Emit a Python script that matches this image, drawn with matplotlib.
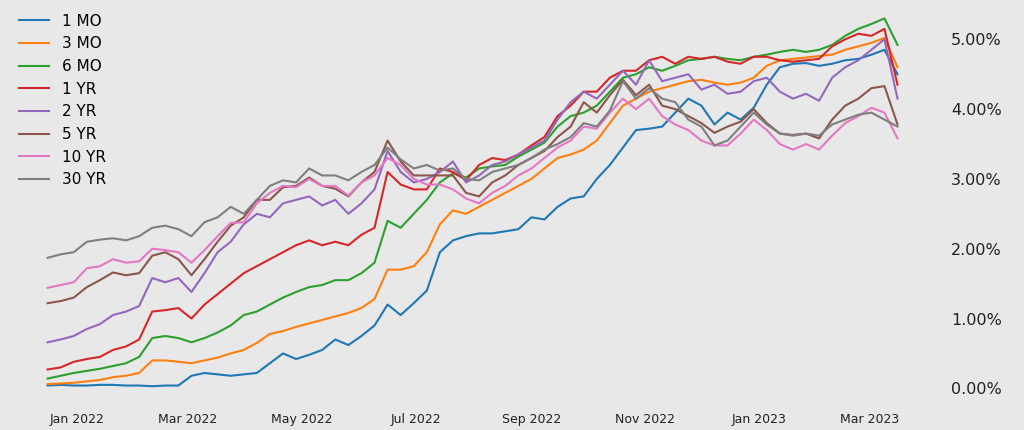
import matplotlib
matplotlib.use('Agg')
import matplotlib.pyplot as plt
import matplotlib.dates as mdates
from matplotlib.ticker import PercentFormatter, MultipleLocator
import pandas as pd

# weekly samples, Dec 16 2021 .. Mar 16 2023
dates = pd.date_range('2021-12-16', periods=66, freq='7D')

mo1 = [0.04, 0.05, 0.04, 0.04, 0.05, 0.05, 0.04, 0.04, 0.03, 0.04, 0.04,
       0.18, 0.22, 0.20, 0.18, 0.20, 0.22, 0.36, 0.50, 0.42, 0.48, 0.55,
       0.70, 0.62, 0.75, 0.90, 1.20, 1.05, 1.22, 1.40, 1.95, 2.12, 2.18,
       2.22, 2.22, 2.25, 2.28, 2.45, 2.42, 2.60, 2.72, 2.75, 3.00, 3.20,
       3.45, 3.70, 3.72, 3.75, 3.95, 4.15, 4.05, 3.78, 3.95, 3.85, 4.02,
       4.35, 4.60, 4.65, 4.66, 4.62, 4.65, 4.70, 4.72, 4.78, 4.85, 4.50]
mo3 = [0.06, 0.07, 0.08, 0.10, 0.12, 0.16, 0.18, 0.22, 0.40, 0.40, 0.38,
       0.36, 0.40, 0.44, 0.50, 0.55, 0.65, 0.78, 0.82, 0.88, 0.93, 0.98,
       1.03, 1.08, 1.15, 1.28, 1.70, 1.70, 1.75, 1.95, 2.35, 2.55, 2.50,
       2.60, 2.70, 2.80, 2.90, 3.00, 3.15, 3.30, 3.35, 3.42, 3.55, 3.80,
       4.05, 4.15, 4.25, 4.30, 4.35, 4.40, 4.42, 4.38, 4.35, 4.38, 4.45,
       4.62, 4.70, 4.72, 4.74, 4.76, 4.78, 4.85, 4.90, 4.95, 5.02, 4.60]
mo6 = [0.14, 0.18, 0.22, 0.25, 0.28, 0.32, 0.36, 0.45, 0.72, 0.75, 0.72,
       0.66, 0.72, 0.80, 0.90, 1.05, 1.10, 1.20, 1.30, 1.38, 1.45, 1.48,
       1.55, 1.55, 1.65, 1.80, 2.40, 2.30, 2.50, 2.70, 2.95, 3.08, 3.02,
       3.15, 3.18, 3.20, 3.32, 3.42, 3.52, 3.75, 3.90, 3.95, 4.05, 4.25,
       4.45, 4.50, 4.60, 4.55, 4.62, 4.70, 4.72, 4.75, 4.72, 4.70, 4.75,
       4.78, 4.82, 4.85, 4.82, 4.85, 4.92, 5.05, 5.15, 5.22, 5.30, 4.92]
yr1 = [0.27, 0.30, 0.38, 0.42, 0.45, 0.55, 0.60, 0.70, 1.10, 1.12, 1.15,
       1.00, 1.20, 1.35, 1.50, 1.65, 1.75, 1.85, 1.95, 2.05, 2.12, 2.05,
       2.10, 2.05, 2.20, 2.30, 3.10, 2.92, 2.85, 2.85, 3.15, 3.10, 2.98,
       3.20, 3.30, 3.27, 3.35, 3.48, 3.60, 3.90, 4.05, 4.25, 4.25, 4.45,
       4.55, 4.55, 4.70, 4.75, 4.65, 4.75, 4.72, 4.75, 4.68, 4.65, 4.75,
       4.75, 4.70, 4.68, 4.70, 4.72, 4.90, 5.00, 5.08, 5.05, 5.15, 4.35]
yr2 = [0.66, 0.70, 0.75, 0.85, 0.92, 1.05, 1.10, 1.18, 1.58, 1.52, 1.58,
       1.38, 1.65, 1.95, 2.10, 2.35, 2.50, 2.45, 2.65, 2.70, 2.75, 2.62,
       2.70, 2.50, 2.65, 2.85, 3.40, 3.10, 2.95, 3.00, 3.10, 3.25, 2.95,
       3.05, 3.20, 3.25, 3.35, 3.45, 3.55, 3.85, 4.10, 4.25, 4.15, 4.35,
       4.55, 4.35, 4.70, 4.40, 4.45, 4.50, 4.28, 4.35, 4.22, 4.25, 4.40,
       4.45, 4.25, 4.15, 4.22, 4.12, 4.45, 4.60, 4.70, 4.85, 5.00, 4.15]
yr5 = [1.22, 1.25, 1.30, 1.45, 1.55, 1.66, 1.62, 1.65, 1.90, 1.95, 1.85,
       1.62, 1.85, 2.10, 2.33, 2.45, 2.70, 2.70, 2.88, 2.90, 3.02, 2.90,
       2.86, 2.75, 2.95, 3.10, 3.55, 3.25, 3.05, 3.05, 3.05, 3.05, 2.80,
       2.75, 2.95, 3.05, 3.20, 3.30, 3.40, 3.60, 3.75, 4.10, 3.95, 4.20,
       4.42, 4.20, 4.35, 4.05, 4.00, 3.90, 3.80, 3.66, 3.75, 3.82, 4.00,
       3.80, 3.65, 3.63, 3.65, 3.58, 3.85, 4.05, 4.15, 4.30, 4.33, 3.78]
yr10 = [1.44, 1.48, 1.52, 1.72, 1.75, 1.85, 1.80, 1.82, 2.00, 1.98, 1.95,
        1.80, 1.98, 2.18, 2.37, 2.38, 2.65, 2.80, 2.90, 2.88, 3.00, 2.90,
        2.90, 2.76, 2.95, 3.05, 3.30, 3.20, 3.00, 2.92, 2.92, 2.85, 2.72,
        2.65, 2.80, 2.90, 3.05, 3.15, 3.30, 3.45, 3.55, 3.75, 3.72, 3.95,
        4.15, 4.00, 4.15, 3.90, 3.78, 3.70, 3.55, 3.48, 3.48, 3.65, 3.85,
        3.70, 3.50, 3.42, 3.50, 3.42, 3.62, 3.80, 3.90, 4.02, 3.95, 3.58]
yr30 = [1.87, 1.92, 1.95, 2.10, 2.13, 2.15, 2.12, 2.18, 2.30, 2.33, 2.28,
        2.18, 2.38, 2.45, 2.60, 2.50, 2.70, 2.90, 2.98, 2.95, 3.15, 3.05,
        3.05, 2.98, 3.10, 3.20, 3.45, 3.28, 3.15, 3.20, 3.12, 3.15, 3.00,
        2.98, 3.10, 3.15, 3.20, 3.30, 3.42, 3.50, 3.60, 3.80, 3.75, 3.98,
        4.40, 4.15, 4.30, 4.15, 4.10, 3.85, 3.75, 3.48, 3.55, 3.75, 3.95,
        3.78, 3.65, 3.62, 3.65, 3.62, 3.78, 3.85, 3.92, 3.95, 3.85, 3.75]

labels = ['1 MO', '3 MO', '6 MO', '1 YR', '2 YR', '5 YR', '10 YR', '30 YR']
series = [mo1, mo3, mo6, yr1, yr2, yr5, yr10, yr30]

bg = '#e8e8e9'
fig = plt.figure(figsize=(10.24, 4.30), dpi=100, facecolor=bg)
ax = fig.add_subplot(1, 1, 1)
ax.set_facecolor(bg)
fig.subplots_adjust(left=0.005, right=0.918, top=1.0, bottom=0.059)

for lab, vals in zip(labels, series):
    ax.plot(dates, vals, linewidth=1.5, label=lab)

ax.yaxis.tick_right()
ax.yaxis.set_major_locator(MultipleLocator(1))
ax.yaxis.set_major_formatter(PercentFormatter(decimals=2))
ax.xaxis.set_major_locator(mdates.MonthLocator(bymonth=[1, 3, 5, 7, 9, 11]))
ax.xaxis.set_major_formatter(mdates.DateFormatter('%b %Y'))
ax.tick_params(axis='y', length=0, labelsize=11.5, pad=8, colors='#222222')
ax.tick_params(axis='x', length=0, labelsize=9, pad=6, colors='#222222')
for s in ax.spines.values():
    s.set_visible(False)

ax.legend(loc='upper left', frameon=False, fontsize=11)

fig.savefig('out.png', dpi=100, facecolor=bg)
